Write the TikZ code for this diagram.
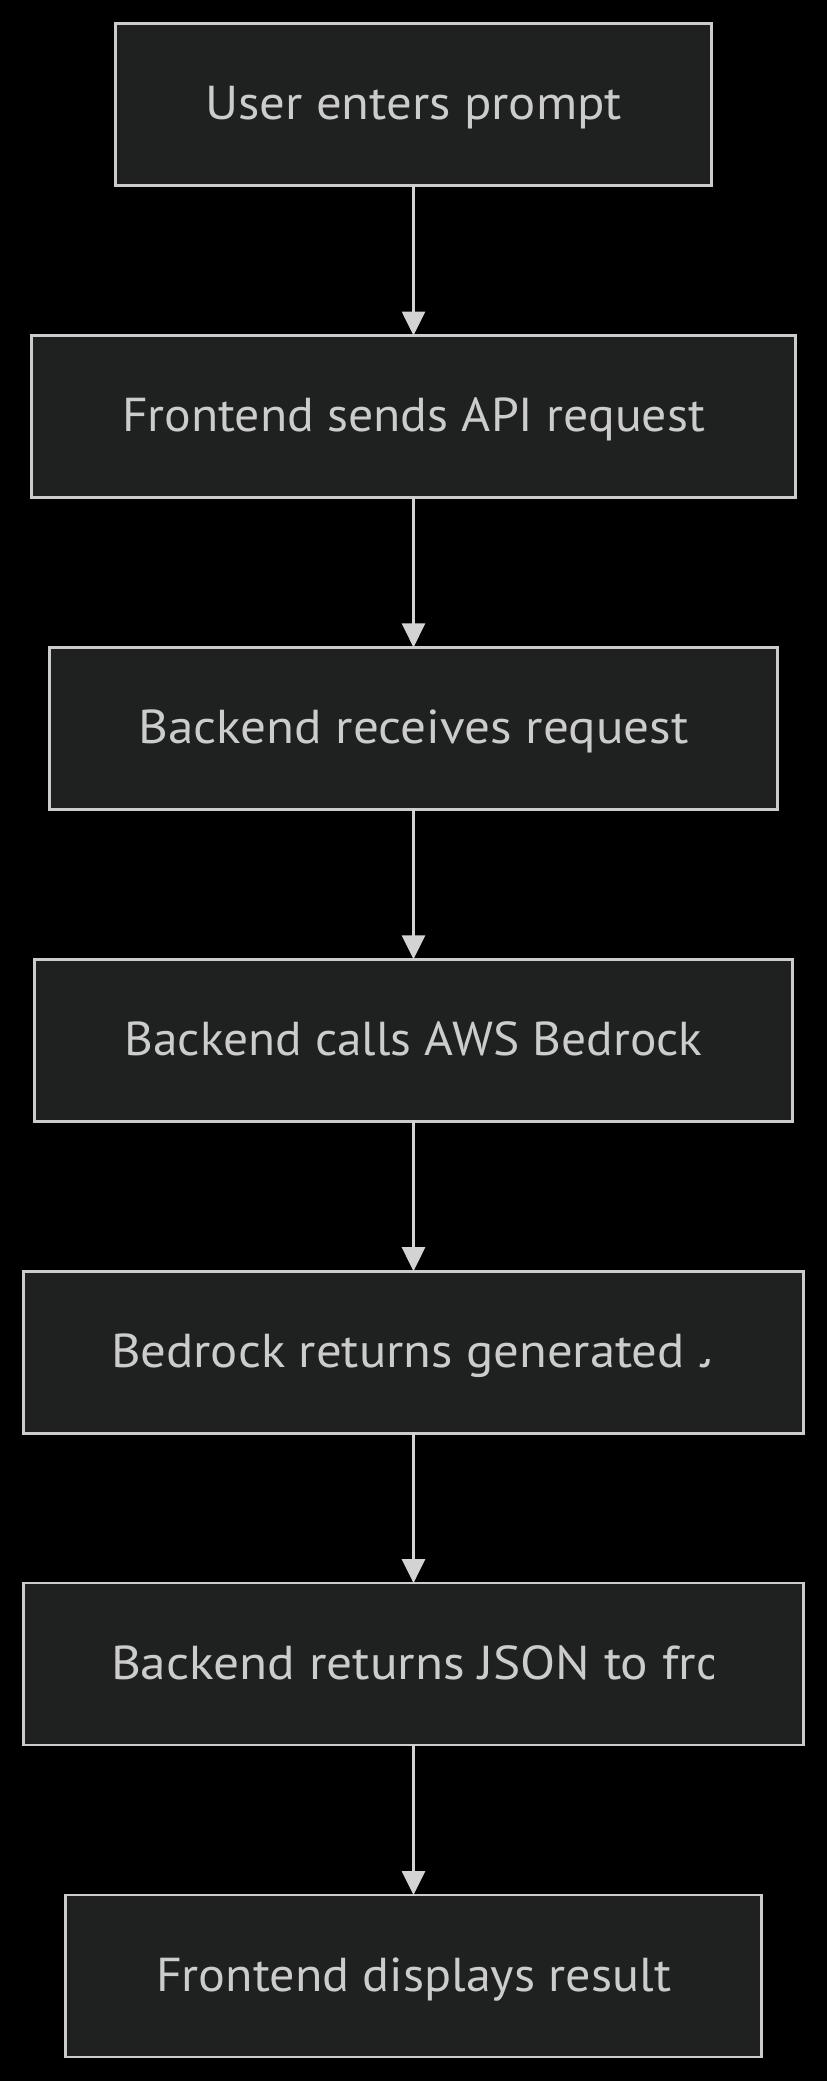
\documentclass[tikz,border=0pt]{standalone}
\usepackage{fontspec}
\usepackage{graphicx}
\setmainfont{PT Sans}
\usetikzlibrary{arrows.meta}
\definecolor{nodefill}{HTML}{1F2020}
\definecolor{nodeborder}{HTML}{CCCCCC}
\definecolor{txtcol}{HTML}{CCCCCC}
\definecolor{edgecol}{HTML}{D3D3D3}
\newcommand\lblfont{\fontsize{47.6pt}{50pt}\selectfont}
\newlength\lblrefw
% scale a label horizontally to a given width (in pt)
\newcommand\lblw[2]{\settowidth{\lblrefw}{\lblfont #2}%
  \pgfmathsetmacro\lblsx{#1/\lblrefw}%
  \scalebox{\lblsx}[1]{\lblfont #2}}
\begin{document}
\begin{tikzpicture}[x=1pt,y=1pt,
  box/.style={draw=nodeborder, fill=nodefill, line width=2.7pt, minimum height=162pt,
    inner sep=0pt, outer sep=0pt, text=txtcol, text height=31pt, text depth=1pt},
  lbltxt/.style={inner sep=0pt, outer sep=0pt, text=txtcol},
  flow/.style={draw=edgecol, line width=2.7pt, -{Triangle[length=24pt,width=23pt]}}]
\fill[black] (0,0) rectangle (827,-2081);
\useasboundingbox (0,0) rectangle (827,-2081);
\node[box, minimum width=596pt] (b1) at (413.5,-104.6) {\lblw{417}{User enters prompt}};
\node[box, minimum width=763.5pt] (b2) at (413.5,-416.5) {\lblw{583}{Frontend sends API request}};
\node[box, minimum width=728pt] (b3) at (413.5,-728.4) {\lblw{550}{Backend receives request}};
\node[box, minimum width=758pt] (b4) at (413.5,-1040.3) {\lblw{578}{Backend calls AWS Bedrock}};
\node[box, minimum width=780.5pt] (b5) at (413.5,-1352.2) {};
\node[box, minimum width=780.5pt] (b6) at (413.5,-1664.1) {};
\node[box, minimum width=696pt] (b7) at (413.5,-1976.0) {\lblw{515}{Frontend displays result}};
% labels cut off at the right edge of their text area
\node[lbltxt, anchor=base west] (t5) at (111,-1367.2) {\lblw{574}{Bedrock returns generated}};
\begin{scope}
\clip (698,-1359) rectangle (714,-1372);
\node[lbltxt, anchor=base west] (t5b) at (701,-1367.2) {\lblw{13}{J}};
\end{scope}
\node[lbltxt, anchor=base west] (t6) at (111,-1679.1) {\lblw{585}{Backend returns JSON to fr}};
\begin{scope}
\clip (690,-1610) rectangle (713.5,-1720);
\node[lbltxt, anchor=base west] (t6b) at (696.5,-1679.1) {\lblfont o};
\end{scope}
\draw[flow] (b1) -- (b2);
\draw[flow] (b2) -- (b3);
\draw[flow] (b3) -- (b4);
\draw[flow] (b4) -- (b5);
\draw[flow] (b5) -- (b6);
\draw[flow] (b6) -- (b7);
\end{tikzpicture}
\end{document}
